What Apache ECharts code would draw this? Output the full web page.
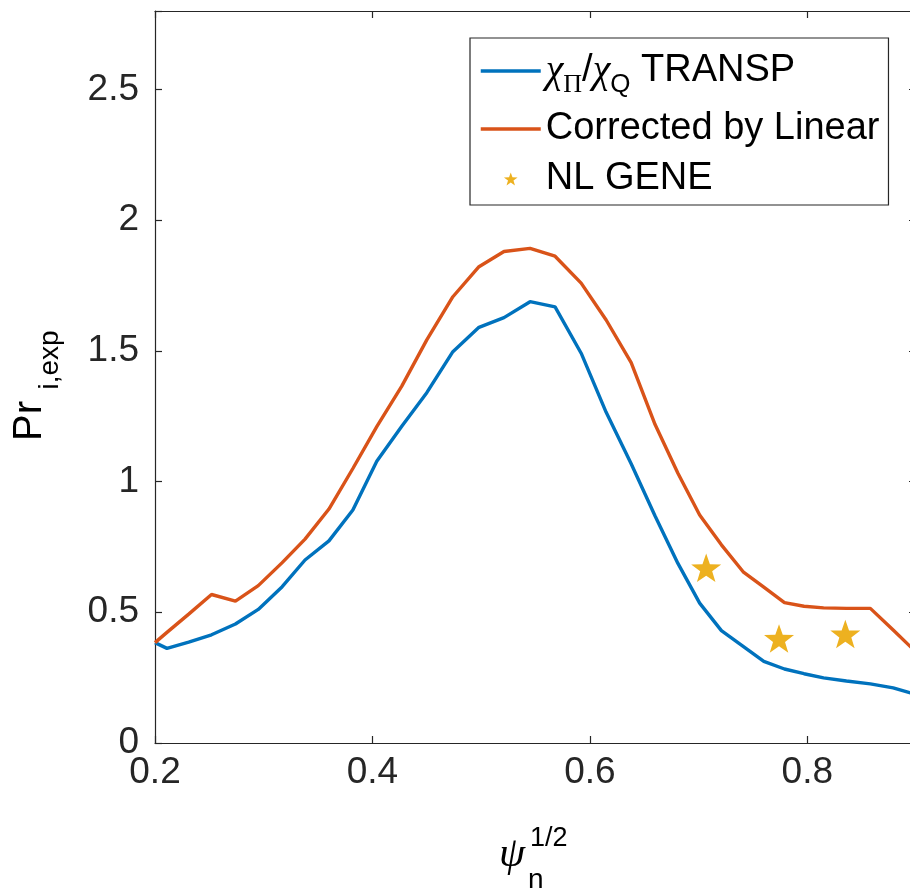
<!DOCTYPE html>
<html>
<head>
<meta charset="utf-8">
<script src="https://cdn.jsdelivr.net/npm/echarts@6/dist/echarts.min.js"></script>
<style>
  html, body { margin: 0; padding: 0; background: #fff; }
  #chart { width: 910px; height: 892px; }
</style>
</head>
<body>
<div id="chart"></div>
<script>
// Normalised radius sqrt(psi_n) grid
const psiN = [0.200, 0.211, 0.231, 0.252, 0.274, 0.295, 0.317, 0.338, 0.360, 0.382,
              0.404, 0.427, 0.450, 0.474, 0.498, 0.521, 0.545, 0.568, 0.592, 0.615,
              0.638, 0.660, 0.681, 0.701, 0.721, 0.741, 0.760, 0.779, 0.797, 0.815,
              0.836, 0.858, 0.879, 0.900];
// Prandtl number from TRANSP (chi_Pi / chi_Q)
const prTransp = [0.384, 0.362, 0.386, 0.414, 0.455, 0.511, 0.598, 0.700, 0.773, 0.891,
                  1.078, 1.212, 1.340, 1.497, 1.590, 1.627, 1.688, 1.668, 1.491, 1.265,
                  1.068, 0.868, 0.687, 0.535, 0.430, 0.370, 0.312, 0.283, 0.265, 0.249,
                  0.237, 0.226, 0.211, 0.185];
// Prandtl number corrected by linear runs
const prCorrected = [0.384, 0.423, 0.493, 0.568, 0.543, 0.602, 0.690, 0.780, 0.895, 1.050,
                     1.210, 1.365, 1.542, 1.707, 1.822, 1.880, 1.892, 1.862, 1.759, 1.618,
                     1.455, 1.218, 1.032, 0.872, 0.758, 0.655, 0.596, 0.537, 0.523, 0.517,
                     0.515, 0.515, 0.432, 0.348];
// Nonlinear GENE points
const geneX = [0.707, 0.774, 0.835];
const geneY = [0.670, 0.400, 0.417];

const xTicks = [0.2, 0.4, 0.6, 0.8];
const yTicks = [0, 0.5, 1, 1.5, 2, 2.5];

const seriesNames = ['transp', 'linear', 'gene'];

const INK = '#262626';
const SANS = 'Liberation Sans, Arial, Helvetica, sans-serif';
const SERIF = 'Liberation Serif, DejaVu Serif, serif';
const STAR = 'path://M0,-10 L2.35,-3.24 9.51,-3.09 3.8,1.24 5.88,8.09 0,4 -5.88,8.09 -3.8,1.24 -9.51,-3.09 -2.35,-3.24 Z';
const BLUE = '#0072BD';
const ORANGE = '#D95319';
const GOLD = '#EDB120';

const chart = echarts.init(document.getElementById('chart'), null, { renderer: 'canvas' });

const pairs = (xs, ys) => xs.map((x, i) => [x, ys[i]]);

const axisBase = {
  axisLine: { show: true, onZero: false, lineStyle: { color: INK, width: 1.2 } },
  axisTick: { show: true, inside: true, length: 7, lineStyle: { color: INK, width: 1.2 } },
  splitLine: { show: false }
};

const legendRich = {
  n:   { fontFamily: SANS, fontSize: 38, color: '#000', verticalAlign: 'middle' },
  chi: { fontFamily: SERIF, fontStyle: 'italic', fontSize: 40, color: '#000', verticalAlign: 'middle' },
  subS:{ fontFamily: SERIF, fontSize: 26, color: '#000', verticalAlign: 'bottom', padding: [28, 0, 0, 0] },
  sub: { fontFamily: SANS, fontSize: 26, color: '#000', verticalAlign: 'bottom', padding: [28, 0, 0, 0] }
};

const legendLabel = {
  transp: '{chi|χ}{subS|Π}{n|/}{chi|χ}{sub|Q}{n| TRANSP}',
  linear: '{n|Corrected by Linear}',
  gene: '{n|NL GENE}'
};

chart.setOption({
  animation: false,
  backgroundColor: '#fff',
  grid: { left: 155, top: 11, width: 761, height: 732, containLabel: false, outerBoundsMode: 'none' },
  xAxis: [
    Object.assign({
      type: 'value', position: 'bottom', min: 0.2, max: 0.9, interval: 0.2,
      axisLabel: {
        color: INK, fontFamily: SANS, fontSize: 37, margin: 11,
        formatter: v => xTicks.some(t => Math.abs(t - v) < 1e-9) ? v.toFixed(1) : ''
      }
    }, axisBase),
    Object.assign({
      type: 'value', position: 'top', min: 0.2, max: 0.9, interval: 0.2,
      axisLabel: { show: false }
    }, axisBase)
  ],
  yAxis: [
    Object.assign({
      type: 'value', position: 'left', min: 0, max: 2.8, interval: 0.5,
      axisLabel: {
        color: INK, fontFamily: SANS, fontSize: 37, margin: 16,
        formatter: v => yTicks.some(t => Math.abs(t - v) < 1e-9) ? String(v) : ''
      }
    }, axisBase),
    Object.assign({
      type: 'value', position: 'right', min: 0, max: 2.8, interval: 0.5,
      axisLabel: { show: false }
    }, axisBase)
  ],
  legend: {
    orient: 'vertical',
    left: 470, top: 38,
    padding: [13, 9, 7, 9],
    itemGap: 12,
    itemWidth: 60,
    itemHeight: 13,
    backgroundColor: '#fff',
    borderColor: INK,
    borderWidth: 1.2,
    borderRadius: 0,
    selectedMode: false,
    data: [
      { name: 'transp', itemStyle: { opacity: 0 }, lineStyle: { width: 3.5 } },
      { name: 'linear', itemStyle: { opacity: 0 }, lineStyle: { width: 3.5 } },
      { name: 'gene', icon: STAR }
    ],
    formatter: name => legendLabel[name],
    textStyle: { rich: legendRich, color: '#000' }
  },
  series: [
    {
      name: seriesNames[0], type: 'line', xAxisIndex: 0, yAxisIndex: 0,
      data: pairs(psiN, prTransp), symbol: 'none', smooth: false,
      lineStyle: { color: BLUE, width: 3.4 }, itemStyle: { color: BLUE }, z: 3
    },
    {
      name: seriesNames[1], type: 'line', xAxisIndex: 0, yAxisIndex: 0,
      data: pairs(psiN, prCorrected), symbol: 'none', smooth: false,
      lineStyle: { color: ORANGE, width: 3.4 }, itemStyle: { color: ORANGE }, z: 3
    },
    {
      name: seriesNames[2], type: 'scatter', xAxisIndex: 0, yAxisIndex: 0,
      data: pairs(geneX, geneY), symbol: STAR, symbolSize: 30, symbolKeepAspect: true,
      itemStyle: { color: GOLD, opacity: 1 }, z: 4
    }
  ],
  graphic: [
    // y-axis title: Pr with subscript i,exp (reads bottom to top)
    {
      type: 'text', x: 30, y: 421, rotation: Math.PI / 2,
      style: { text: 'Pr', fontFamily: SANS, fontSize: 40, fill: '#000', align: 'center', verticalAlign: 'middle' }
    },
    {
      type: 'text', x: 50, y: 360, rotation: Math.PI / 2,
      style: { text: 'i,exp', fontFamily: SANS, fontSize: 28, fill: '#000', align: 'center', verticalAlign: 'middle' }
    },
    // x-axis title: psi_n^{1/2}
    {
      type: 'text', x: 512, y: 855,
      style: { text: 'ψ', fontFamily: SERIF, fontStyle: 'italic', fontSize: 42, fill: '#000', align: 'center', verticalAlign: 'middle' }
    },
    {
      type: 'text', x: 528, y: 880,
      style: { text: 'n', fontFamily: SANS, fontSize: 28, fill: '#000', align: 'left', verticalAlign: 'middle' }
    },
    {
      type: 'text', x: 530, y: 839,
      style: { text: '1/2', fontFamily: SANS, fontSize: 27, fill: '#000', align: 'left', verticalAlign: 'middle' }
    }
  ]
});
</script>
</body>
</html>
